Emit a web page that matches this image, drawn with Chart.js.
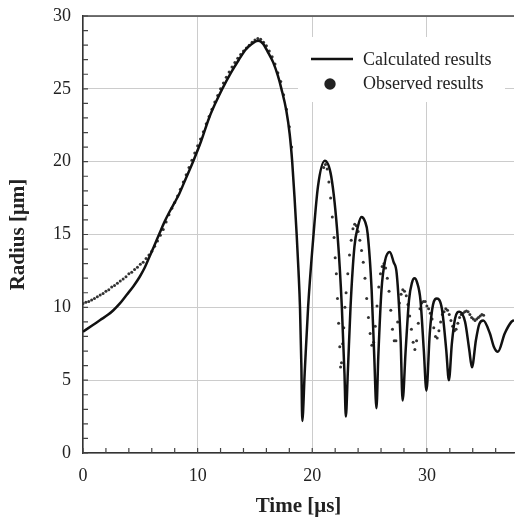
<!DOCTYPE html>
<html>
<head>
<meta charset="utf-8">
<script src="https://cdn.jsdelivr.net/npm/chart.js@4"></script>
<style>
  body { margin: 0; background: #fff; }
  canvas { display: block; }
</style>
</head>
<body>
<canvas id="bubbleChart" width="518" height="519"></canvas>
<script>
// Calculated results (solid line)
const calcTime = [0, 0.8, 1.5, 2.2, 2.65, 3.2, 3.8, 4.4, 4.95, 5.4, 5.8, 6.2, 6.68, 7.1, 7.55, 8.0, 8.4, 9.0, 9.6, 10.3,
    11.0, 11.6, 12.15, 12.9, 13.6, 14.2, 14.75, 15.27, 15.7, 16.19, 16.6, 17.0, 17.31, 17.74, 18.03, 18.25, 18.45, 18.64, 18.8, 18.93,
    19.05, 19.13, 19.34, 19.64, 20.07, 20.5, 21.09, 21.66, 22.24, 22.58, 22.81, 22.93,
    23.1, 23.34, 23.68, 24.0, 24.29, 24.6, 24.83, 25.18, 25.41, 25.6,
    25.76, 26.04, 26.35, 26.76, 27.1, 27.37, 27.71, 27.88,
    28.15, 28.44, 28.7, 28.92, 29.15, 29.44, 29.73, 29.96,
    30.25, 30.53, 30.88, 31.31, 31.69, 31.92,
    32.18, 32.46, 32.84, 33.33, 33.7, 33.93,
    34.28, 34.57, 34.92, 35.5, 35.84, 36.2, 36.79, 37.37, 37.6];
const calcRadius = [8.33, 8.75, 9.13, 9.5, 9.8, 10.25, 10.85, 11.45, 12.1, 12.75, 13.47, 14.2, 15.08, 15.85, 16.56, 17.2, 17.8, 18.9, 20.0, 21.4,
    23.0, 24.1, 25.0, 26.1, 27.0, 27.7, 28.1, 28.3, 28.1, 27.43, 26.8, 25.9, 25.0, 23.5, 21.9, 20.0, 17.6, 15.0, 12.5, 10.0,
    6.0, 2.2, 5.5, 10.04, 14.6, 18.3, 20.06, 18.96, 14.6, 10.04, 5.47, 2.5,
    5.47, 10.04, 14.16, 15.6, 16.2, 15.9, 15.08, 11.2, 6.6, 3.07,
    6.6, 11.2, 13.2, 13.8, 13.1, 12.3, 7.76, 3.6,
    7.07, 10.5, 11.7, 12.0, 11.7, 10.5, 7.07, 4.28,
    8.2, 10.16, 10.6, 9.9, 7.07, 5.0,
    7.53, 9.24, 9.7, 9.01, 7.07, 5.88,
    7.76, 8.85, 9.1, 8.2, 7.3, 6.95, 8.2, 9.0, 9.13];

// Observed results (dots)
const obsTime = [0, 0.25, 0.5, 0.75, 1.0, 1.25, 1.5, 1.75, 2.0, 2.25, 2.5, 2.75, 3.0, 3.25, 3.5, 3.75, 4.0, 4.25, 4.5, 4.75,
    5.0, 5.25, 5.5, 5.75, 6.0, 6.25, 6.5, 6.75, 7.0, 7.25, 7.5, 7.75, 8.0, 8.25, 8.5, 8.75, 9.0, 9.25, 9.5, 9.75,
    10.0, 10.25, 10.5, 10.75, 11.0, 11.25, 11.5, 11.75, 12.0, 12.25, 12.5, 12.75, 13.0, 13.25, 13.5, 13.75, 14.0, 14.25, 14.5, 14.75,
    15.0, 15.25, 15.5, 15.75, 16.0, 16.25, 16.5, 16.75, 17.0, 17.25, 17.5, 17.75, 18.0, 18.2,
    21.0, 21.15, 21.3, 21.45, 21.6, 21.75, 21.9, 22.0, 22.1, 22.2, 22.3, 22.4, 22.47, 22.55,
    22.65, 22.75, 22.85, 22.95, 23.1, 23.25, 23.4, 23.55, 23.7, 23.85, 24.0, 24.15, 24.3, 24.45, 24.6, 24.75, 24.9, 25.05, 25.2, 25.35,
    25.5, 25.65, 25.8, 25.95, 26.1, 26.25, 26.4, 26.55, 26.7, 26.85, 27.0, 27.15, 27.3,
    27.45, 27.6, 27.75, 27.9, 28.05, 28.2, 28.35, 28.5, 28.65, 28.8, 28.95, 29.1,
    29.25, 29.4, 29.55, 29.7, 29.85, 30.0, 30.15, 30.3, 30.45, 30.6, 30.75, 30.9, 31.05,
    31.2, 31.35, 31.5, 31.65, 31.8, 31.95, 32.1, 32.25, 32.4, 32.55, 32.7,
    32.85, 33.0, 33.15, 33.3, 33.45, 33.6, 33.75, 33.9, 34.05, 34.2, 34.35, 34.5, 34.65, 34.8, 34.95];
const obsRadius = [10.27, 10.35, 10.4, 10.5, 10.6, 10.72, 10.84, 10.95, 11.1, 11.2, 11.4, 11.5, 11.65, 11.8, 11.95, 12.1, 12.3, 12.4, 12.6, 12.75,
    12.95, 13.1, 13.35, 13.6, 13.85, 14.2, 14.55, 14.95, 15.35, 15.85, 16.35, 16.8, 17.2, 17.65, 18.1, 18.6, 19.1, 19.6, 20.1, 20.6,
    21.1, 21.55, 22.05, 22.6, 23.1, 23.6, 24.1, 24.55, 25.0, 25.4, 25.8, 26.15, 26.5, 26.8, 27.1, 27.35, 27.6, 27.8, 28.0, 28.2,
    28.35, 28.45, 28.4, 28.2, 27.95, 27.6, 27.2, 26.7, 26.1, 25.5, 24.6, 23.6, 22.4, 21.0,
    19.6, 19.8, 19.5, 18.6, 17.5, 16.2, 14.8, 13.4, 12.3, 10.6, 8.9, 7.3, 5.9, 6.2,
    7.5, 8.6, 10.0, 11.0, 12.3, 13.6, 14.6, 15.4, 15.7, 15.6, 15.2, 14.6, 13.9, 13.1, 12.0, 10.6, 9.3, 8.2, 7.4, 7.6,
    8.7, 10.1, 11.4, 12.3, 12.8, 13.0, 12.7, 12.0, 11.1, 9.8, 8.5, 7.7, 7.7,
    9.0, 10.3, 10.9, 11.2, 11.1, 10.8, 10.2, 9.4, 8.5, 7.6, 7.1, 7.7,
    8.9, 9.9, 10.3, 10.4, 10.4, 10.1, 9.9, 9.6, 9.2, 8.6, 8.0, 7.9, 8.4,
    9.0, 9.5, 9.7, 9.9, 9.8, 9.5, 9.1, 8.7, 8.4, 8.5, 8.9,
    9.3, 9.5, 9.6, 9.7, 9.75, 9.7, 9.5, 9.3, 9.2, 9.1, 9.2, 9.3, 9.4, 9.5, 9.45];

const serif = "'Liberation Serif', 'Times New Roman', serif";

// inward ticks, top frame line and the legend box
const framePlugin = {
    id: 'framePlugin',
    afterDraw(chart) {
        const { ctx, chartArea: a, scales: { x, y } } = chart;
        ctx.save();
        ctx.strokeStyle = '#444';
        ctx.lineWidth = 1.5;
        ctx.beginPath();
        ctx.moveTo(a.left, a.top);
        ctx.lineTo(a.right, a.top);
        ctx.stroke();

        ctx.lineWidth = 1.2;
        ctx.beginPath();
        for (let t = 0; t <= x.max; t += 2) {
            const px = x.getPixelForValue(t);
            ctx.moveTo(px, a.bottom);
            ctx.lineTo(px, a.bottom - 5);
        }
        for (let t = 0; t <= y.max; t += 1) {
            const py = y.getPixelForValue(t);
            ctx.moveTo(a.left, py);
            ctx.lineTo(a.left + 5, py);
        }
        ctx.stroke();

        // legend
        const ds = chart.data.datasets;
        ctx.fillStyle = '#fff';
        ctx.fillRect(298, 37, 207, 65);
        ctx.strokeStyle = '#111';
        ctx.lineWidth = 2.5;
        ctx.beginPath();
        ctx.moveTo(311, 59);
        ctx.lineTo(353, 59);
        ctx.stroke();
        ctx.fillStyle = '#222';
        ctx.beginPath();
        ctx.arc(330, 84, 5.7, 0, Math.PI * 2);
        ctx.fill();
        ctx.font = '18px ' + serif;
        ctx.textBaseline = 'middle';
        ctx.fillStyle = '#222';
        ctx.fillText(ds[0].label, 363, 60);
        ctx.fillText(ds[1].label, 363, 84);
        ctx.restore();
    }
};

const ctx = document.getElementById('bubbleChart').getContext('2d');
new Chart(ctx, {
    type: 'line',
    data: {
        datasets: [{
            label: 'Calculated results',
            data: calcTime.map((t, i) => ({ x: t, y: calcRadius[i] })),
            borderColor: '#111',
            borderWidth: 2.5,
            pointRadius: 0,
            cubicInterpolationMode: 'monotone',
            fill: false,
        }, {
            label: 'Observed results',
            data: obsTime.map((t, i) => ({ x: t, y: obsRadius[i] })),
            showLine: false,
            pointRadius: 1.5,
            pointBackgroundColor: '#333',
            pointBorderWidth: 0,
            borderColor: '#333',
        }]
    },
    options: {
        responsive: false,
        animation: false,
        layout: { padding: { top: 16, right: 1, left: 0, bottom: 0 } },
        plugins: { legend: { display: false }, tooltip: { enabled: false } },
        scales: {
            x: {
                type: 'linear',
                min: 0,
                max: 37.6,
                ticks: { stepSize: 10, includeBounds: false, padding: 12, color: '#222', font: { family: serif, size: 18 } },
                grid: { color: '#cccccc', lineWidth: 1, drawTicks: false },
                border: { color: '#333', width: 1.5 },
                title: { display: true, text: 'Time [μs]', color: '#222', padding: 0, font: { family: serif, size: 21, weight: 'bold' } },
                afterFit(scale) {
                    scale.height = 66;
                    scale.paddingLeft = 0;
                    scale.paddingRight = 0;
                }
            },
            y: {
                min: 0,
                max: 30,
                ticks: { stepSize: 5, padding: 12, color: '#222', font: { family: serif, size: 18 } },
                grid: { color: '#cccccc', lineWidth: 1, drawTicks: false },
                border: { color: '#333', width: 1.5 },
                title: { display: true, text: 'Radius [μm]', color: '#222', padding: { top: 6, bottom: 0 }, font: { family: serif, size: 21, weight: 'bold' } },
                afterFit(scale) {
                    scale.width = 83;
                    scale.paddingTop = 0;
                    scale.paddingBottom = 0;
                }
            }
        }
    },
    plugins: [framePlugin]
});
</script>
</body>
</html>
